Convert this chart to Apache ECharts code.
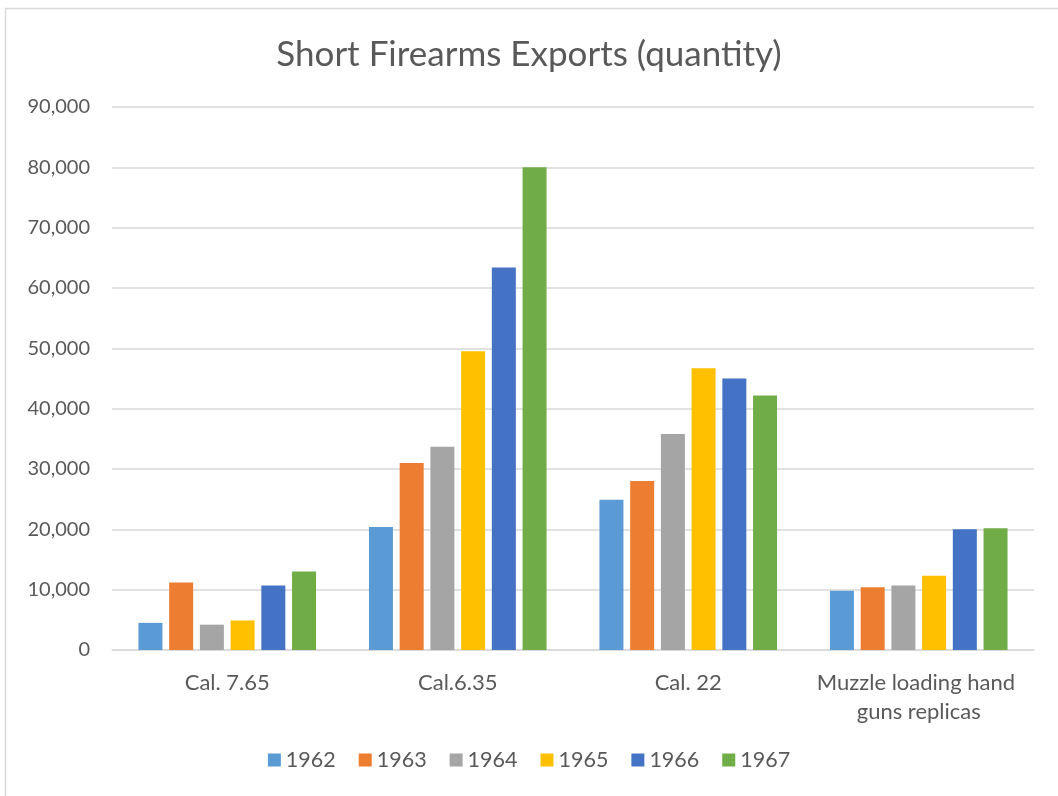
<!DOCTYPE html>
<html>
<head>
<meta charset="utf-8">
<script src="https://cdn.jsdelivr.net/npm/echarts@6/dist/echarts.min.js"></script>
<style>
html,body{margin:0;padding:0;background:#fff;}
#chart{width:1058px;height:796px;}
</style>
</head>
<body>
<div id="chart"></div>
<script>
const categories = ['Cal. 7.65', 'Cal.6.35', 'Cal. 22', 'Muzzle loading hand guns replicas'];
const years = ['1962', '1963', '1964', '1965', '1966', '1967'];
const v1962 = [4500, 20400, 24900, 9800];
const v1963 = [11200, 31000, 28000, 10400];
const v1964 = [4200, 33700, 35800, 10700];
const v1965 = [4900, 49500, 46700, 12300];
const v1966 = [10700, 63400, 45000, 20000];
const v1967 = [13000, 80000, 42200, 20200];
const colors = ['#5b9bd5', '#ed7d31', '#a5a5a5', '#ffc000', '#4472c4', '#70ad47'];
const seriesValues = [v1962, v1963, v1964, v1965, v1966, v1967];

const font = 'Lato, "Open Sans", sans-serif';
const chart = echarts.init(document.getElementById('chart'), null, {renderer: 'canvas'});
chart.setOption({
  animation: false,
  color: colors,
  textStyle: {fontFamily: font},
  title: {
    text: 'Short Firearms Exports (quantity)',
    left: 'center',
    top: 32,
    textStyle: {fontSize: 35, fontWeight: 'normal', color: '#595959', fontFamily: font}
  },
  graphic: [{
    type: 'rect',
    shape: {x: 5.5, y: 8.5, width: 1200, height: 900},
    style: {fill: 'none', stroke: '#d9d9d9', lineWidth: 1.5},
    silent: true
  }],
  legend: {
    bottom: 20,
    left: 'center',
    icon: 'rect',
    itemWidth: 13,
    itemHeight: 13,
    itemGap: 23,
    itemStyle: {borderWidth: 0},
    textStyle: {fontSize: 21.5, color: '#595959', fontFamily: font},
    data: years
  },
  grid: {left: 112, right: 24, top: 107, bottom: 146},
  xAxis: {
    type: 'category',
    data: categories,
    axisTick: {show: false},
    axisLine: {lineStyle: {color: '#d9d9d9', width: 1.5}},
    axisLabel: {
      fontSize: 22, color: '#595959', fontFamily: font, margin: 18,
      width: 232, overflow: 'break', lineHeight: 29, interval: 0
    }
  },
  yAxis: {
    type: 'value',
    min: 0, max: 90000, interval: 10000,
    axisLine: {show: false},
    axisTick: {show: false},
    splitLine: {lineStyle: {color: '#d9d9d9', width: 1.5}},
    axisLabel: {
      fontSize: 20, color: '#595959', fontFamily: font, margin: 22,
      formatter: v => v.toLocaleString('en-US')
    }
  },
  series: years.map((y, i) => ({
    name: y,
    type: 'bar',
    data: seriesValues[i],
    barWidth: 24,
    barGap: '28%',
    itemStyle: {color: colors[i]}
  }))
});
</script>
</body>
</html>
